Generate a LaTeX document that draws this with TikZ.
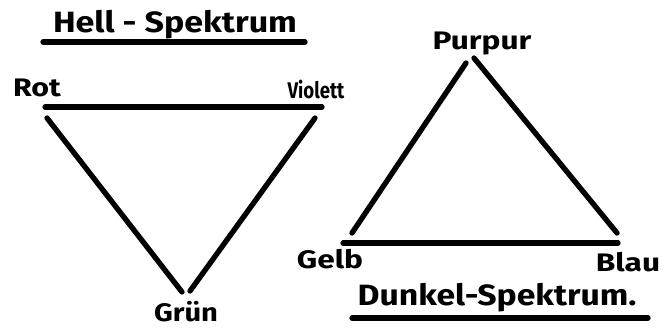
\documentclass[tikz,border=0pt]{standalone}
\usepackage{fontspec}
\setmainfont{Fira Sans}
\newcommand{\hs}[2]{\scalebox{#1}[1]{#2}}
\begin{document}
\begin{tikzpicture}[x=0.75pt,y=-0.75pt,
  edge/.style={line width=4pt,line cap=round},
  lbl/.style={font=\bfseries\fontsize{19}{21}\selectfont,inner sep=0pt},
  ttl/.style={font=\bfseries\fontsize{22}{24}\selectfont,inner sep=0pt}]
\useasboundingbox (0,0) rectangle (670,330);
% left triangle
\node[ttl] (t1) at (175,25) {\hs{1.16}{Hell - Spektrum}};
\draw[edge] (43,42) -- (305,42);
\node[lbl] (rot) at (37,88) {\hs{1.2}{Rot}};
\node[lbl,font=\bfseries\fontsize{17}{19}\selectfont] (vio) at (316,89) {\hs{0.82}{Violett}};
\node[lbl] (gru) at (186,312) {\hs{1.15}{Grün}};
\coordinate (a1) at (45,107); \coordinate (a2) at (322,107);
\coordinate (b1) at (47,118); \coordinate (b2) at (182,292);
\coordinate (c1) at (315,118); \coordinate (c2) at (190,291);
\draw[edge] (a1) -- (a2);
\draw[edge] (b1) -- (b2);
\draw[edge] (c1) -- (c2);
% right triangle
\node[lbl] (pur) at (482,44) {\hs{1.25}{Purpur}};
\node[lbl] (gel) at (330,259) {\hs{1.25}{Gelb}};
\node[lbl] (bla) at (628,262) {\hs{1.25}{Blau}};
\node[ttl] (t2) at (497,298) {\hs{1.15}{Dunkel-Spektrum.}};
\draw[edge] (352,318) -- (648,318);
\coordinate (d1) at (466,63); \coordinate (d2) at (352,233);
\coordinate (e1) at (474,58); \coordinate (e2) at (617,233);
\coordinate (f1) at (343,243); \coordinate (f2) at (618,243);
\draw[edge] (d1) -- (d2);
\draw[edge] (e1) -- (e2);
\draw[edge] (f1) -- (f2);
\end{tikzpicture}
\end{document}
